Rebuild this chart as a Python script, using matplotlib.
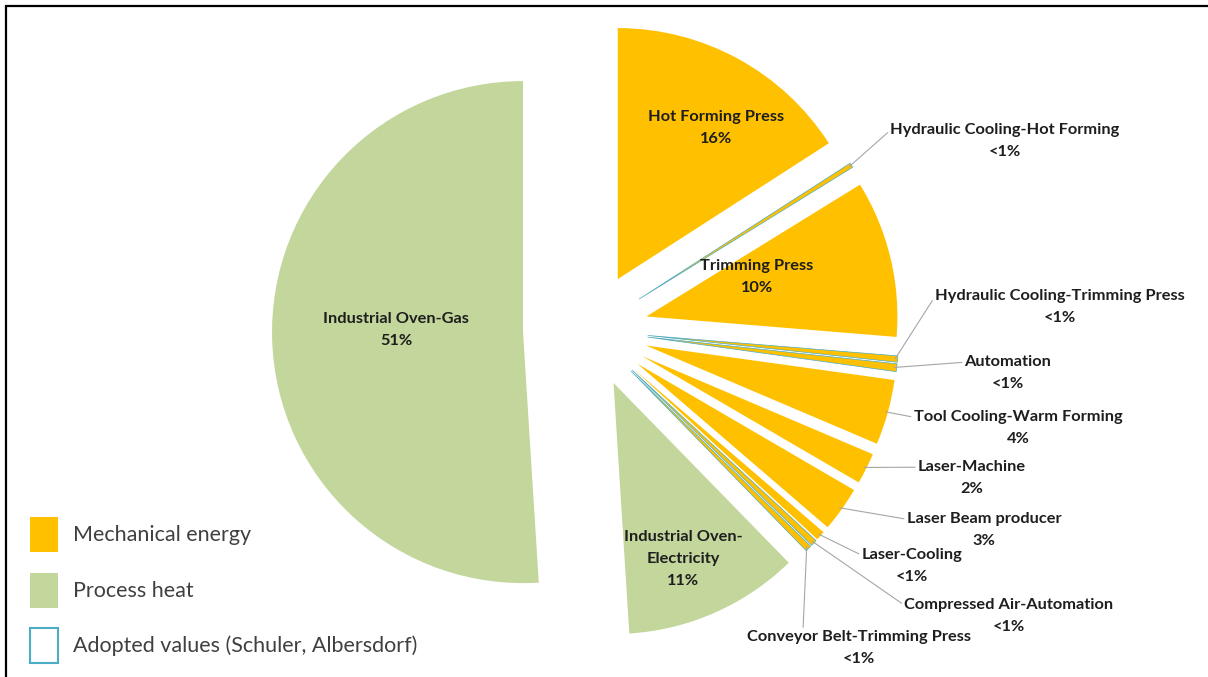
import numpy as np
import matplotlib
matplotlib.use("Agg")
import matplotlib.pyplot as plt
from matplotlib.patches import Patch

# energy shares of the hot forming line, clockwise from 12 o'clock
categories = [
    "Hot Forming Press",
    "Hydraulic Cooling-Hot Forming",
    "Trimming Press",
    "Hydraulic Cooling-Trimming Press",
    "Automation",
    "Tool Cooling-Warm Forming",
    "Laser-Machine",
    "Laser Beam producer",
    "Laser-Cooling",
    "Compressed Air-Automation",
    "Conveyor Belt-Trimming Press",
    "Industrial Oven-\nElectricity",
    "Industrial Oven-Gas",
]
shares = [15.9, 0.3, 10.1, 0.4, 0.5, 4.2, 2.0, 2.9, 0.6, 0.4, 0.4, 11.3, 51.0]
pct_text = ["16%", "<1%", "10%", "<1%", "<1%", "4%", "2%", "3%",
            "<1%", "<1%", "<1%", "11%", "51%"]
energy_kind = ["mech"] * 11 + ["heat"] * 2
adopted = [False, True, False, True, True, False, False, False,
           False, True, True, False, False]
legend_labels = ["Mechanical energy", "Process heat",
                 "Adopted values (Schuler, Albersdorf)"]

YELLOW = "#FFC000"
GREEN = "#C3D69B"
BLUE = "#4BACC6"
LINE = "#A6A6A6"
kind_color = {"mech": YELLOW, "heat": GREEN}

W, H = 1208, 677
fig = plt.figure(figsize=(W / 100, H / 100), dpi=100)
ax = fig.add_axes([0, 0, 1, 1])

explode = [58] * len(shares)
explode[-1] = 67  # gas slice sits a little further out

wedges, _ = ax.pie(
    shares,
    colors=[kind_color[k] for k in energy_kind],
    startangle=-90,
    counterclock=True,
    radius=251,
    center=(590, 330),
    explode=explode,
    wedgeprops=dict(linewidth=0),
)
for w, is_adopted in zip(wedges, adopted):
    if is_adopted:
        w.set_edgecolor(BLUE)
        w.set_linewidth(0.5)

ax.set_xlim(0, W)
ax.set_ylim(H, 0)
ax.set_aspect("equal")
ax.axis("off")

# labels inside the big slices
inside_pos = {0: (716, 128), 2: (757, 277), 11: (683, 559), 12: (396, 330)}
# labels outside with leader lines
outside_pos = {1: (1005, 141), 3: (1060, 307), 4: (1008, 373), 5: (1018, 428),
               6: (972, 478), 7: (984, 530), 8: (912, 566), 9: (1009, 616),
               10: (859, 648)}
leader_rel = {10: (0.25, 1.0)}

font = dict(family="Lato", weight="bold", size=11.8, color="#1E1E1E")

for i, (x, y) in inside_pos.items():
    ax.text(x, y, f"{categories[i]}\n{pct_text[i]}", ha="center", va="center",
            linespacing=1.72, **font)

for i, (x, y) in outside_pos.items():
    w = wedges[i]
    t = np.deg2rad(0.5 * (w.theta1 + w.theta2))
    cx, cy = w.center
    anchor = (cx + 0.99 * w.r * np.cos(t), cy + 0.99 * w.r * np.sin(t))
    ax.annotate(
        f"{categories[i]}\n{pct_text[i]}", xy=anchor, xytext=(x, y),
        ha="center", va="center", linespacing=1.72, **font,
        arrowprops=dict(arrowstyle="-", color=LINE, lw=0.8, shrinkA=0, shrinkB=0,
                        relpos=leader_rel.get(i, (0.0, 0.8))),
    )

handles = [
    Patch(facecolor=YELLOW, edgecolor="none", label=legend_labels[0]),
    Patch(facecolor=GREEN, edgecolor="none", label=legend_labels[1]),
    Patch(facecolor="white", edgecolor=BLUE, linewidth=1.5, label=legend_labels[2]),
]
ax.legend(handles=handles, loc="upper left", bbox_to_anchor=(30, 517),
          bbox_transform=ax.transData, frameon=False, borderpad=0,
          borderaxespad=0, handlelength=1.3, handleheight=2.13,
          labelspacing=0.95, handletextpad=0.7,
          prop=dict(family="Lato", size=15.5), labelcolor="#404040")

# outer frame (top and left edges)
ax.plot([6, 6, W + 20], [H + 20, 6, 6], color="black", lw=1.6,
        solid_joinstyle="miter", clip_on=False)

fig.savefig("out.png", dpi=100, facecolor="white")
